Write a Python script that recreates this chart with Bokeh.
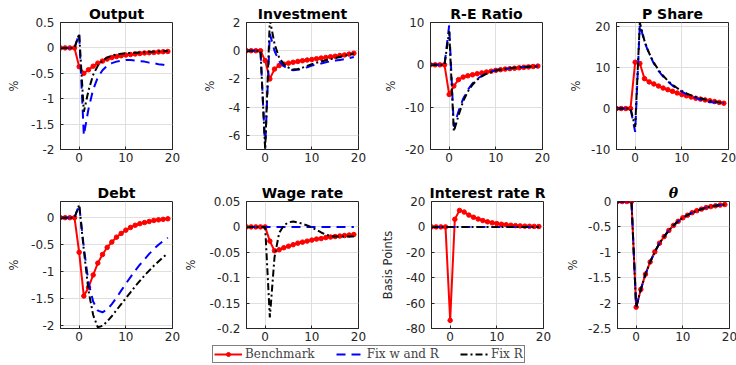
from bokeh.plotting import figure
from bokeh.models import (Range1d, FixedTicker, CustomJSTickFormatter, Legend,
                          LegendItem, Spacer)
from bokeh.layouts import column, row
from bokeh.embed import file_html
from bokeh.resources import INLINE

# ---------------- data ----------------
t = list(range(-4, 20))
x_ticks = [0, 10, 20]

output_bench = [0, 0, 0, 0, -0.37, -0.5, -0.43, -0.36, -0.3, -0.26, -0.22, -0.19, -0.17, -0.155,
                -0.14, -0.13, -0.12, -0.11, -0.1, -0.095, -0.09, -0.08, -0.075, -0.07]
output_fix_wr = [0, 0, 0, 0, 0.28, -1.72, -1.2, -0.82, -0.58, -0.44, -0.35, -0.3, -0.27, -0.25,
                 -0.24, -0.24, -0.25, -0.26, -0.27, -0.29, -0.3, -0.32, -0.33, -0.35]
output_fix_r = [0, 0, 0, 0, 0.28, -1.26, -0.84, -0.53, -0.35, -0.25, -0.19, -0.15, -0.13, -0.115,
                -0.105, -0.1, -0.095, -0.09, -0.085, -0.08, -0.075, -0.07, -0.065, -0.06]
output_ticks = [-2, -1.5, -1, -0.5, 0, 0.5]

invest_bench = [0, 0, 0, 0, -0.7, -2.0, -1.3, -1.05, -0.95, -0.88, -0.82, -0.76, -0.71, -0.66,
                -0.62, -0.57, -0.52, -0.48, -0.43, -0.39, -0.34, -0.3, -0.24, -0.18]
invest_fix_wr = [0, 0, 0, 0, -6.9, 1.2, 0.0, -0.75, -1.1, -1.3, -1.38, -1.35, -1.27, -1.17,
                 -1.05, -0.97, -0.9, -0.82, -0.75, -0.7, -0.65, -0.6, -0.52, -0.45]
invest_fix_r = [0, 0, 0, 0, -7.0, 2.2, 0.5, -0.5, -0.95, -1.2, -1.33, -1.3, -1.2, -1.08,
                -0.95, -0.85, -0.76, -0.68, -0.6, -0.52, -0.44, -0.36, -0.28, -0.2]
invest_ticks = [-6, -4, -2, 0, 2]

re_bench = [0, 0, 0, 0, -7.0, -5.0, -3.5, -2.9, -2.6, -2.35, -2.1, -1.9, -1.7, -1.5,
            -1.3, -1.15, -1.0, -0.9, -0.8, -0.7, -0.6, -0.5, -0.4, -0.3]
re_fix_wr = [0, 0, 0, 0, 9.3, -14.6, -11.0, -8.0, -5.9, -4.4, -3.3, -2.6, -2.0, -1.6,
             -1.3, -1.1, -0.95, -0.8, -0.7, -0.6, -0.5, -0.45, -0.4, -0.35]
re_fix_r = [0, 0, 0, 0, 7.9, -15.7, -12.0, -8.6, -6.3, -4.7, -3.5, -2.7, -2.1, -1.7,
            -1.35, -1.15, -0.97, -0.82, -0.7, -0.6, -0.52, -0.46, -0.4, -0.35]
re_ticks = [-20, -10, 0, 10]

pshare_bench = [0, 0, 0, 0, 11.3, 11.0, 7.3, 6.5, 6.0, 5.5, 5.0, 4.6, 4.2, 3.8,
                3.4, 3.1, 2.8, 2.5, 2.3, 2.1, 1.9, 1.7, 1.5, 1.3]
pshare_fix_wr = [0, 0, 0, 0, -5.7, 20.5, 16.3, 13.3, 11.0, 9.2, 7.8, 6.6, 5.6, 4.8,
                 4.1, 3.5, 3.0, 2.6, 2.2, 1.9, 1.6, 1.5, 1.4, 1.3]
pshare_fix_r = [0, 0, 0, 0, -4.5, 21.0, 16.5, 13.5, 11.2, 9.4, 8.0, 6.8, 5.8, 5.0,
                4.3, 3.7, 3.2, 2.8, 2.5, 2.2, 1.9, 1.7, 1.5, 1.3]
pshare_ticks = [-10, 0, 10, 20]

debt_bench = [0, 0, 0, 0, -0.64, -1.45, -1.29, -1.06, -0.84, -0.68, -0.55, -0.45, -0.36, -0.29,
              -0.23, -0.18, -0.14, -0.11, -0.09, -0.07, -0.05, -0.04, -0.03, -0.02]
debt_fix_wr = [0, 0, 0, 0, 0.24, -0.55, -1.2, -1.55, -1.72, -1.75, -1.7, -1.6, -1.48, -1.35,
               -1.22, -1.1, -0.98, -0.87, -0.77, -0.67, -0.58, -0.5, -0.43, -0.37]
debt_fix_r = [0, 0, 0, 0, 0.24, -0.6, -1.35, -1.8, -2.03, -2.0, -1.92, -1.82, -1.71, -1.6,
              -1.49, -1.38, -1.27, -1.17, -1.07, -0.98, -0.89, -0.81, -0.73, -0.66]
debt_ticks = [-2, -1.5, -1, -0.5, 0]

wage_bench = [0, 0, 0, 0, 0, -0.028, -0.047, -0.045, -0.041, -0.038, -0.035, -0.032, -0.03,
              -0.028, -0.026, -0.024, -0.023, -0.021, -0.02, -0.019, -0.018, -0.017, -0.016, -0.015]
wage_fix_wr = [0] * 24
wage_fix_r = [0, 0, 0, 0, 0, -0.178, -0.06, -0.012, 0.003, 0.009, 0.0105, 0.009, 0.006, 0.003,
              -0.001, -0.006, -0.011, -0.015, -0.018, -0.019, -0.019, -0.019, -0.019, -0.019]
wage_ticks = [-0.2, -0.15, -0.1, -0.05, 0, 0.05]

rate_bench = [0, 0, 0, 0, -73.6, 6.0, 13.0, 11.7, 9.3, 7.6, 6.2, 5.0, 4.0, 3.2,
              2.6, 2.1, 1.7, 1.3, 1.0, 0.8, 0.6, 0.5, 0.4, 0.3]
rate_fix_wr = [0] * 24
rate_fix_r = [0] * 24
rate_ticks = [-80, -60, -40, -20, 0, 20]

theta_bench = [0, 0, 0, 0, -2.08, -1.73, -1.43, -1.19, -0.99, -0.82, -0.69, -0.57, -0.47, -0.39,
               -0.32, -0.27, -0.22, -0.18, -0.15, -0.12, -0.1, -0.085, -0.07, -0.06]
theta_fix_wr = list(theta_bench)
theta_fix_r = list(theta_bench)
theta_ticks = [-2.5, -2, -1.5, -1, -0.5, 0]

series_labels = ["Benchmark", "Fix w and R", "Fix R"]

panels = [
    ("Output", "%", output_bench, output_fix_wr, output_fix_r, (-2, 0.5), output_ticks),
    ("Investment", "%", invest_bench, invest_fix_wr, invest_fix_r, (-7, 2), invest_ticks),
    ("R-E Ratio", "%", re_bench, re_fix_wr, re_fix_r, (-20, 10), re_ticks),
    ("P Share", "%", pshare_bench, pshare_fix_wr, pshare_fix_r, (-10, 21), pshare_ticks),
    ("Debt", "%", debt_bench, debt_fix_wr, debt_fix_r, (-2.05, 0.3), debt_ticks),
    ("Wage rate", "%", wage_bench, wage_fix_wr, wage_fix_r, (-0.2, 0.05), wage_ticks),
    ("Interest rate R", "Basis Points", rate_bench, rate_fix_wr, rate_fix_r, (-80, 20), rate_ticks),
    ("\u03b8", "%", theta_bench, theta_fix_wr, theta_fix_r, (-2.5, 0), theta_ticks),
]

# ---------------- styling ----------------
col_borders = [(60, 8), (66, 19), (53, 19), (55, 8)]
label_standoffs = [7, 9, 4, 5, 7, 8, 8, 5]
AX = "#262626"
RED, BLUE, BLACK = "#ff0000", "#0000ff", "#000000"
DASH_WR = "9 6"
DASH_R = "7 3 2 3"

fmt_code = "return String(Number(tick.toFixed(3)));"


def style_axis(ax):
    ax.major_tick_in = 3
    ax.major_tick_out = 0
    ax.minor_tick_line_color = None
    ax.axis_line_color = AX
    ax.major_tick_line_color = AX
    ax.major_label_text_color = AX
    ax.major_label_text_font = "DejaVu Sans"
    ax.major_label_text_font_size = "12px"


figs = []
for i, (title, ylab, bench, fwr, fr, yr, yt) in enumerate(panels):
    top = i < 4
    bl, br = col_borders[i % 4]
    p = figure(frame_width=112, frame_height=127,
               x_range=Range1d(-4, 20), y_range=Range1d(*yr),
               toolbar_location=None, output_backend="svg",
               min_border_left=bl, min_border_right=br,
               min_border_top=22, min_border_bottom=30 if top else 16,
               title=title)
    p.title.align = "center"
    p.title.vertical_align = "middle"
    p.title.text_font = "DejaVu Serif" if title == "\u03b8" else "DejaVu Sans"
    p.title.text_font_style = "bold italic" if title == "\u03b8" else "bold"
    p.title.text_font_size = "14px"
    p.title.text_color = "black"
    p.title.standoff = 0

    p.xaxis.ticker = FixedTicker(ticks=x_ticks)
    p.yaxis.ticker = FixedTicker(ticks=yt)
    p.xaxis.formatter = CustomJSTickFormatter(code=fmt_code)
    p.yaxis.formatter = CustomJSTickFormatter(code=fmt_code)
    style_axis(p.xaxis[0])
    style_axis(p.yaxis[0])
    p.xaxis.major_label_standoff = 3
    p.yaxis.major_label_standoff = 6
    p.yaxis.axis_label = ylab
    p.yaxis.axis_label_text_font = "DejaVu Sans"
    p.yaxis.axis_label_text_font_size = "11.5px"
    p.yaxis.axis_label_text_font_style = "normal"
    p.yaxis.axis_label_text_color = AX
    p.yaxis.axis_label_standoff = label_standoffs[i]

    p.grid.grid_line_color = "#dfdfdf"
    p.outline_line_color = AX
    p.outline_line_alpha = 1.0
    p.background_fill_color = "white"
    p.border_fill_color = "white"

    p.line(t, bench, color=RED, line_width=2)
    p.scatter(t, bench, size=4.5, color=RED)
    p.line(t, fwr, color=BLUE, line_width=2, line_dash=DASH_WR)
    p.line(t, fr, color=BLACK, line_width=2, line_dash=DASH_R)
    figs.append(p)

# ---------------- legend (its renderers lie outside the visible range) ----------------
leg = figure(width=330, height=20, x_range=Range1d(100, 101), y_range=Range1d(0, 1),
             toolbar_location=None, output_backend="svg", min_border=0,
             x_axis_location=None, y_axis_location=None)
leg.grid.visible = False
leg.outline_line_color = None
r1 = leg.line(t, output_bench, color=RED, line_width=2)
r1m = leg.scatter(t, output_bench, size=4.5, color=RED)
r2 = leg.line(t, output_fix_wr, color=BLUE, line_width=2, line_dash=DASH_WR)
r3 = leg.line(t, output_fix_r, color=BLACK, line_width=2, line_dash=DASH_R)
legend = Legend(items=[LegendItem(label=series_labels[0], renderers=[r1, r1m], index=0),
                       LegendItem(label=series_labels[1], renderers=[r2], index=0),
                       LegendItem(label=series_labels[2], renderers=[r3], index=0)],
                location="center_left", orientation="horizontal", margin=0, padding=1,
                spacing=21, label_standoff=3, glyph_width=28, glyph_height=10,
                label_height=10, label_width=10,
                label_text_font="DejaVu Serif", label_text_font_size="12px",
                border_line_color="black", border_line_width=1,
                background_fill_color="white", background_fill_alpha=1)
leg.add_layout(legend)

layout = column(row(*figs[:4]), row(*figs[4:]),
                row(Spacer(width=212, height=20), leg))

open("out.html", "w").write(file_html(layout, INLINE))
